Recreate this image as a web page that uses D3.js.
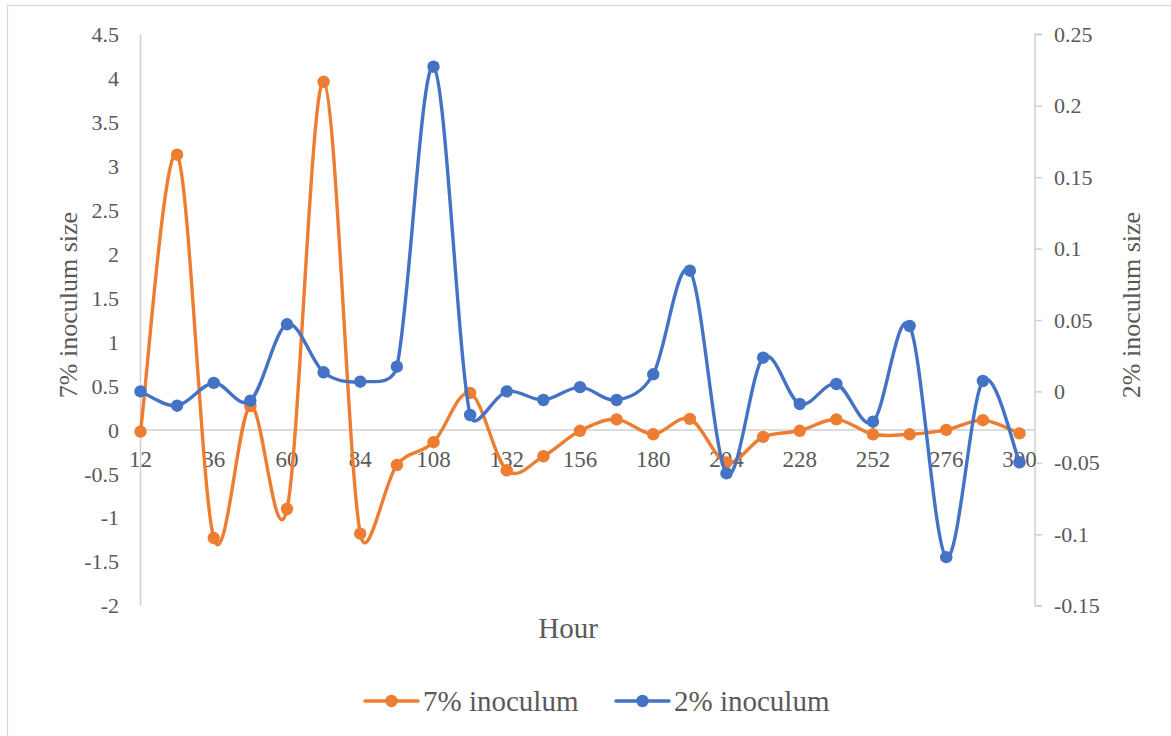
<!DOCTYPE html>
<html>
<head>
<meta charset="utf-8">
<script src="https://cdn.jsdelivr.net/npm/d3@7"></script>
<style>
  html, body { margin: 0; padding: 0; background: #ffffff; }
  svg { display: block; }
</style>
</head>
<body>
<svg id="chart" width="1171" height="736"></svg>
<script>
// Sampling times (hours)
const hours = [12, 24, 36, 48, 60, 72, 84, 96, 108, 120, 132, 144, 156,
               168, 180, 192, 204, 216, 228, 240, 252, 264, 276, 288, 300];

// 7% inoculum size (left axis)
const inoculum7 = [-0.02, 3.13, -1.23, 0.27, -0.90, 3.96, -1.18, -0.40, -0.14,
                   0.42, -0.46, -0.30, -0.01, 0.12, -0.05, 0.125, -0.37, -0.08,
                   -0.01, 0.12, -0.05, -0.05, 0.0, 0.11, -0.04];

// 2% inoculum size (right axis)
const inoculum2 = [0.0, -0.010, 0.006, -0.0065, 0.047, 0.0134, 0.0068, 0.0173,
                   0.2273, -0.0165, 0.0, -0.006, 0.003, -0.006, 0.012, 0.0845,
                   -0.0574, 0.0236, -0.0088, 0.0052, -0.0212, 0.0458, -0.116,
                   0.0073, -0.0496];

const leftTicks = [-2, -1.5, -1, -0.5, 0, 0.5, 1, 1.5, 2, 2.5, 3, 3.5, 4, 4.5];
const rightTicks = [-0.15, -0.1, -0.05, 0, 0.05, 0.1, 0.15, 0.2, 0.25];
const hourTickLabels = [12, 36, 60, 84, 108, 132, 156, 180, 204, 228, 252, 276, 300];

const seriesNames = ["7% inoculum", "2% inoculum"];
const colors = ["#ed7d31", "#4472c4"];

const FONT = '"Liberation Serif", Tinos, "Times New Roman", "DejaVu Serif", serif';
const TEXT_COLOR = "#595959";

// Smoothed-line curve: Catmull-Rom style Bezier handles (chord / 6),
// each handle limited to half the length of the segment it belongs to.
function curveSmooth(context) {
  const cap = 0.5;
  let pts = [];
  const handle = (a, b, segLen) => {
    let hx = (b[0] - a[0]) / 6, hy = (b[1] - a[1]) / 6;
    const len = Math.hypot(hx, hy);
    if (len > cap * segLen && len > 0) {
      const k = cap * segLen / len;
      hx *= k; hy *= k;
    }
    return [hx, hy];
  };
  return {
    areaStart() {}, areaEnd() {},
    lineStart() { pts = []; },
    point(x, y) { pts.push([+x, +y]); },
    lineEnd() {
      const n = pts.length;
      if (!n) return;
      context.moveTo(pts[0][0], pts[0][1]);
      for (let i = 0; i < n - 1; i++) {
        const p0 = pts[i - 1] || pts[i];
        const p1 = pts[i];
        const p2 = pts[i + 1];
        const p3 = pts[i + 2] || pts[i + 1];
        const d12 = Math.hypot(p2[0] - p1[0], p2[1] - p1[1]);
        const h1 = handle(p0, p2, d12);
        const h2 = handle(p1, p3, d12);
        context.bezierCurveTo(p1[0] + h1[0], p1[1] + h1[1],
                              p2[0] - h2[0], p2[1] - h2[1],
                              p2[0], p2[1]);
      }
    }
  };
}

const svg = d3.select("#chart");

// chart frame
svg.append("rect")
  .attr("x", 7.5).attr("y", 5.5)
  .attr("width", 1300).attr("height", 900)
  .attr("fill", "none").attr("stroke", "#d9d9d9").attr("stroke-width", 1.2);

const plot = { left: 140.5, right: 1035, top: 34.3, bottom: 605.7 };

const x = d3.scaleLinear().domain([0, hours.length - 1]).range([140.5, 1019.5]);
const yL = d3.scaleLinear().domain([-2, 4.5]).range([plot.bottom, plot.top]);
const yR = d3.scaleLinear().domain([-0.15, 0.25]).range([plot.bottom, plot.top]);

function label(sel, size) {
  return sel.attr("font-family", FONT).attr("fill", TEXT_COLOR).attr("font-size", size);
}

// left axis line
svg.append("line")
  .attr("x1", plot.left).attr("x2", plot.left)
  .attr("y1", plot.top).attr("y2", plot.bottom)
  .attr("stroke", "#d0d0d0").attr("stroke-width", 1.5);

// left tick labels
svg.append("g").selectAll("text").data(leftTicks).join("text")
  .attr("x", 119).attr("y", d => yL(d))
  .attr("dy", "0.35em")
  .attr("text-anchor", "end")
  .call(label, 22)
  .text(d => d);

// right axis
const rightAxis = d3.axisRight(yR).tickValues(rightTicks).tickSize(7).tickPadding(12)
  .tickFormat(d => String(+d.toFixed(2)));
const gR = svg.append("g").attr("transform", `translate(${plot.right},0)`).call(rightAxis);
gR.attr("font-family", FONT).attr("font-size", 22);
gR.select(".domain").attr("stroke", "#d0d0d0").attr("stroke-width", 1.5)
  .attr("d", `M7,${plot.top}H0V${plot.bottom}H7`);
gR.selectAll(".tick line").attr("stroke", "#d0d0d0").attr("stroke-width", 1.5);
gR.selectAll(".tick text").call(label, 22);

// horizontal category axis at zero
svg.append("line")
  .attr("x1", plot.left).attr("x2", plot.right)
  .attr("y1", yL(0)).attr("y2", yL(0))
  .attr("stroke", "#d0d0d0").attr("stroke-width", 1.5);

// hour labels
svg.append("g").selectAll("text").data(hourTickLabels).join("text")
  .attr("x", d => x(hours.indexOf(d)))
  .attr("y", yL(0) + 29)
  .attr("dy", "0.35em")
  .attr("text-anchor", "middle")
  .call(label, 23)
  .text(d => d);

// axis titles
svg.append("text")
  .attr("transform", `translate(68,${(plot.top + plot.bottom) / 2 - 15}) rotate(-90)`)
  .attr("text-anchor", "middle")
  .attr("dy", "0.35em")
  .call(label, 26)
  .text("7% inoculum size");

svg.append("text")
  .attr("transform", `translate(1131,${(plot.top + plot.bottom) / 2 - 15}) rotate(-90)`)
  .attr("text-anchor", "middle")
  .attr("dy", "0.35em")
  .call(label, 26)
  .text("2% inoculum size");

svg.append("text")
  .attr("x", 568).attr("y", 628)
  .attr("text-anchor", "middle")
  .attr("dy", "0.35em")
  .call(label, 29)
  .text("Hour");

// series
const series = [
  { name: seriesNames[0], values: inoculum7, y: yL, color: colors[0] },
  { name: seriesNames[1], values: inoculum2, y: yR, color: colors[1] }
];

series.forEach(s => {
  const line = d3.line().x((d, i) => x(i)).y(d => s.y(d)).curve(curveSmooth);
  const g = svg.append("g");
  g.append("path")
    .attr("d", line(s.values))
    .attr("fill", "none")
    .attr("stroke", s.color)
    .attr("stroke-width", 3.4)
    .attr("stroke-linejoin", "round")
    .attr("stroke-linecap", "round");
  g.selectAll("circle").data(s.values).join("circle")
    .attr("cx", (d, i) => x(i))
    .attr("cy", d => s.y(d))
    .attr("r", 6.2)
    .attr("fill", s.color);
});

// legend
const legendItems = [
  { name: seriesNames[0], color: colors[0], x: 365 },
  { name: seriesNames[1], color: colors[1], x: 616 }
];
const lg = svg.append("g");
legendItems.forEach(it => {
  lg.append("line")
    .attr("x1", it.x).attr("x2", it.x + 53)
    .attr("y1", 701).attr("y2", 701)
    .attr("stroke", it.color).attr("stroke-width", 3.4).attr("stroke-linecap", "round");
  lg.append("circle")
    .attr("cx", it.x + 26.5).attr("cy", 701).attr("r", 6.2).attr("fill", it.color);
  lg.append("text")
    .attr("x", it.x + 58).attr("y", 701)
    .attr("dy", "0.35em")
    .call(label, 29)
    .text(it.name);
});
</script>
</body>
</html>
